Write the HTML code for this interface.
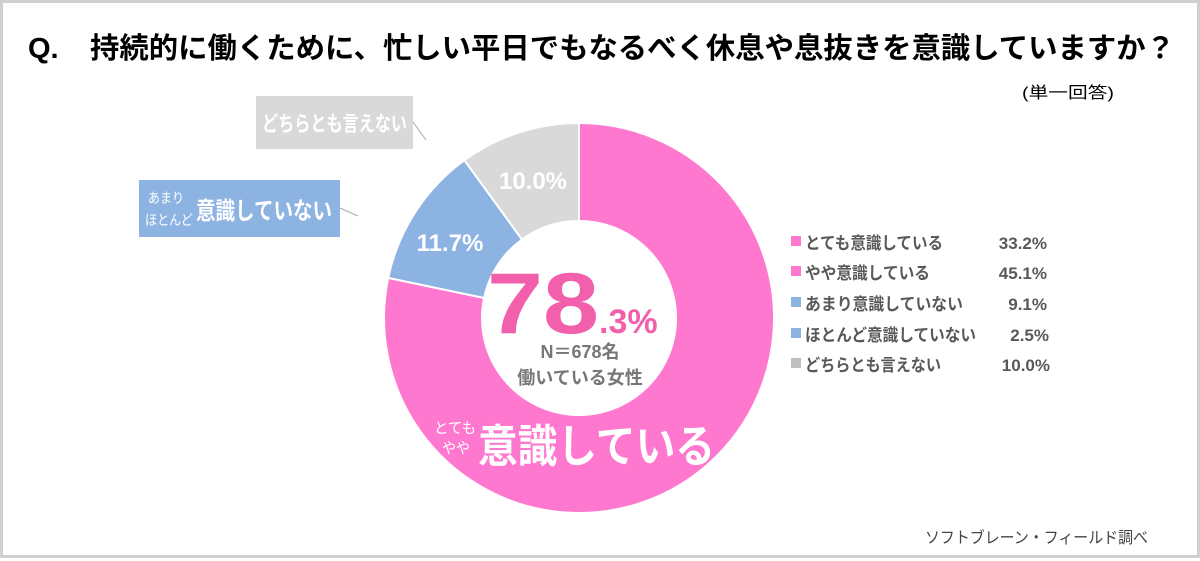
<!DOCTYPE html>
<html><head><meta charset="utf-8"><style>
html,body{margin:0;padding:0;background:#fff;}
svg{display:block;font-family:"Liberation Sans","Noto Sans CJK JP",sans-serif;}
</style></head><body>
<svg width="1200" height="561" viewBox="0 0 1200 561">
<rect x="1.5" y="1.5" width="1197" height="555" fill="#fff" stroke="#d0d0d0" stroke-width="3"/>
<text x="28" y="58" font-size="29" font-weight="bold" fill="#000">Q.</text>
<text x="90" y="58" font-size="29" font-weight="bold" fill="#000" textLength="1085" lengthAdjust="spacingAndGlyphs">持続的に働くために、忙しい平日でもなるべく休息や息抜きを意識していますか？</text>
<text x="1022" y="98" font-size="16" fill="#000" textLength="92" lengthAdjust="spacingAndGlyphs">(単一回答)</text>

<g stroke="#fff" stroke-width="2">
<path d="M579,123 A195,195 0 1 1 388.2,277.9 L484.1,298 A97,97 0 1 0 579,221 Z" fill="#ff78cf"/>
<path d="M388.2,277.9 A195,195 0 0 1 464.4,160.2 L522,239.5 A97,97 0 0 0 484.1,298 Z" fill="#8db3e2"/>
<path d="M464.4,160.2 A195,195 0 0 1 579,123 L579,221 A97,97 0 0 0 522,239.5 Z" fill="#d9d9d9"/>
</g>
<line x1="413" y1="122" x2="426" y2="140" stroke="#aaa" stroke-width="1"/>
<line x1="340" y1="208" x2="358" y2="216" stroke="#aaa" stroke-width="1"/>

<rect x="256" y="96" width="157" height="53" fill="#d9d9d9"/>
<text x="262" y="131" font-size="21" font-weight="bold" fill="#fff" textLength="145" lengthAdjust="spacingAndGlyphs">どちらとも言えない</text>
<rect x="139" y="180" width="201" height="57" fill="#8db3e2"/>
<text x="148" y="203" font-size="14" fill="#fff" textLength="36" lengthAdjust="spacingAndGlyphs">あまり</text>
<text x="145" y="225" font-size="14" fill="#fff" textLength="48" lengthAdjust="spacingAndGlyphs">ほとんど</text>
<text x="196" y="219" font-size="24" font-weight="bold" fill="#fff" textLength="136" lengthAdjust="spacingAndGlyphs">意識していない</text>

<text x="533" y="189" font-size="24" font-weight="bold" fill="#fff" text-anchor="middle">10.0%</text>
<text x="450" y="251" font-size="24" font-weight="bold" fill="#fff" text-anchor="middle">11.7%</text>

<text x="487" y="333" font-size="86" font-weight="bold" fill="#f25fab" textLength="112" lengthAdjust="spacingAndGlyphs">78</text>
<text x="599" y="333" font-size="34" font-weight="bold" fill="#f25fab">.3%</text>
<text x="580" y="358" font-size="18" font-weight="bold" fill="#777" text-anchor="middle">N＝678名</text>
<text x="580" y="384" font-size="18" font-weight="bold" fill="#777" text-anchor="middle">働いている女性</text>

<text x="434" y="433" font-size="15" fill="#fff" textLength="42" lengthAdjust="spacingAndGlyphs">とても</text>
<text x="442" y="453" font-size="15" fill="#fff" textLength="28" lengthAdjust="spacingAndGlyphs">やや</text>
<text x="478" y="462" font-size="45" font-weight="bold" fill="#fff" textLength="237" lengthAdjust="spacingAndGlyphs">意識している</text>

<g font-size="17" fill="#595959" font-weight="bold">
<rect x="791" y="236" width="10" height="10" fill="#ff78cf"/>
<text x="805" y="249" textLength="138" lengthAdjust="spacingAndGlyphs">とても意識している</text><text x="1047" y="249" text-anchor="end">33.2%</text>
<rect x="791" y="266" width="10" height="10" fill="#ff78cf"/>
<text x="805" y="279" textLength="125" lengthAdjust="spacingAndGlyphs">やや意識している</text><text x="1047" y="279" text-anchor="end">45.1%</text>
<rect x="791" y="297" width="10" height="10" fill="#8db3e2"/>
<text x="805" y="310" textLength="158" lengthAdjust="spacingAndGlyphs">あまり意識していない</text><text x="1047" y="310" text-anchor="end">9.1%</text>
<rect x="791" y="328" width="10" height="10" fill="#8db3e2"/>
<text x="805" y="341" textLength="171" lengthAdjust="spacingAndGlyphs">ほとんど意識していない</text><text x="1049" y="341" text-anchor="end">2.5%</text>
<rect x="791" y="358" width="10" height="10" fill="#bfbfbf"/>
<text x="805" y="371" textLength="136" lengthAdjust="spacingAndGlyphs">どちらとも言えない</text><text x="1050" y="371" text-anchor="end">10.0%</text>
</g>
<text x="925" y="543" font-size="16" fill="#444" textLength="223" lengthAdjust="spacingAndGlyphs">ソフトブレーン・フィールド調べ</text>
</svg>
</body></html>
